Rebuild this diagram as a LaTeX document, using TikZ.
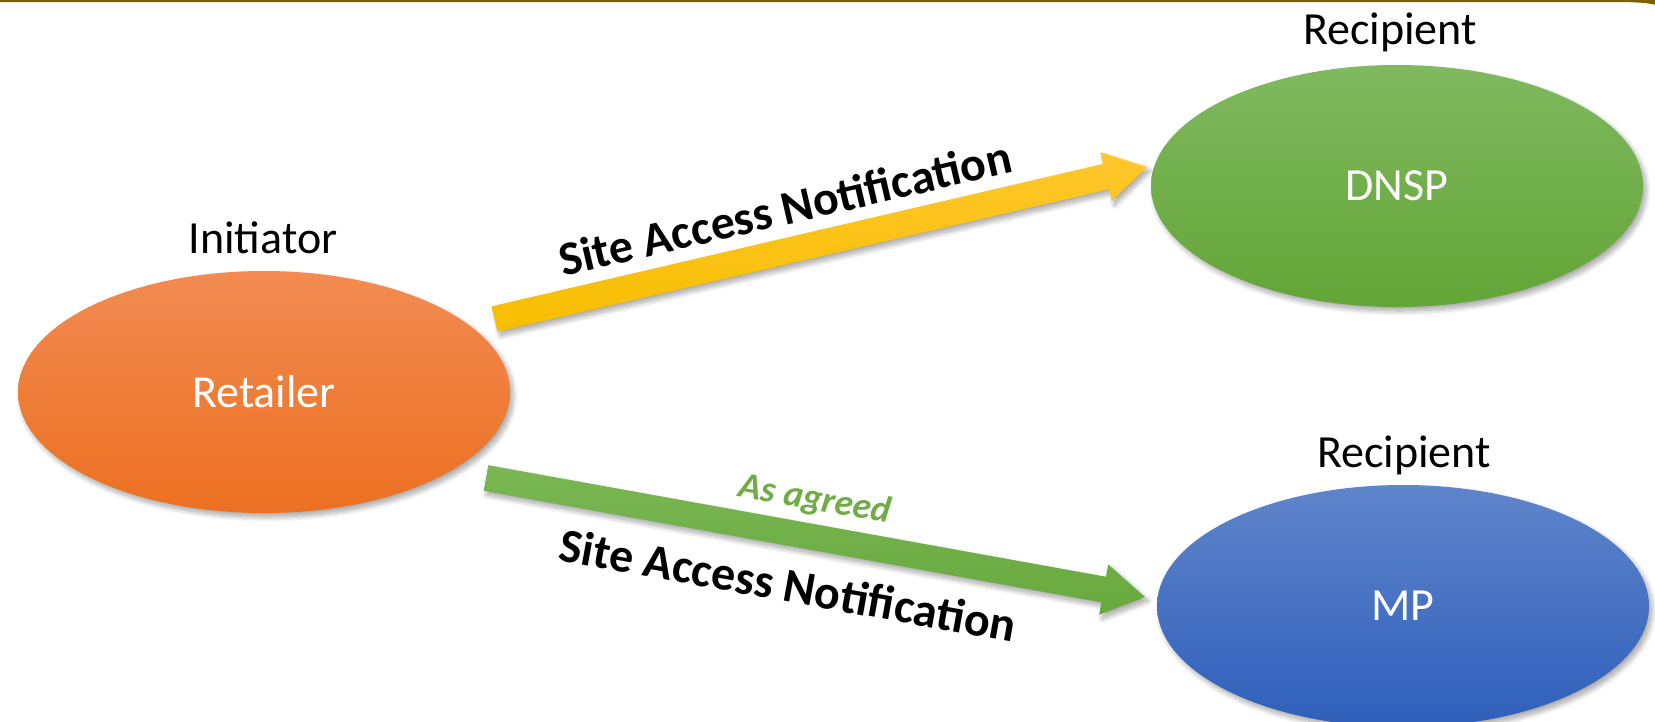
\documentclass[tikz,border=0pt]{standalone}
\usepackage{fontspec}
\setmainfont{Carlito}
\usetikzlibrary{shapes.geometric,calc,shadows.blur}

\definecolor{frame}{RGB}{127,96,0}
\definecolor{ortop}{RGB}{242,139,82}
\definecolor{orbot}{RGB}{236,112,33}
\definecolor{grtop}{RGB}{128,185,95}
\definecolor{grbot}{RGB}{99,165,55}
\definecolor{bltop}{RGB}{95,133,203}
\definecolor{blbot}{RGB}{47,95,186}
\definecolor{yetop}{RGB}{255,199,44}
\definecolor{yebot}{RGB}{247,190,0}
\definecolor{gatop}{RGB}{122,183,84}
\definecolor{gabot}{RGB}{104,169,62}
\definecolor{agreed}{RGB}{112,173,71}

\begin{document}
\begin{tikzpicture}[x=1pt,y=-1pt,
  softshadow/.style={blur shadow={shadow xshift=3pt,shadow yshift=-4pt,
      shadow blur radius=5pt,shadow blur steps=10,shadow opacity=35}},
  party/.style={ellipse,minimum width=492pt,minimum height=242pt,inner sep=0pt,
      text=white,font=\fontsize{46}{55}\selectfont,softshadow},
  role/.style={font=\fontsize{46}{55}\selectfont,anchor=base},
  msg/.style={font=\bfseries\fontsize{48}{58}\selectfont},
  note/.style={font=\bfseries\itshape\fontsize{37}{44}\selectfont,text=agreed},
  blockarrow/.style={softshadow}]

\useasboundingbox (0,0) rectangle (1655,721);

% frame edge along the top, flaring slightly at the right corner
\fill[frame] (-5,0) -- (1660,0) -- (1660,6) .. controls (1648,3) .. (1630,2.2)
  -- (-5,2.2) -- cycle;

% parties
\node[party,top color=ortop,bottom color=orbot] (ret)  at (264,392) {Retailer};
\node[party,top color=grtop,bottom color=grbot] (dnsp) at (1397,186) {DNSP};
\node[party,top color=bltop,bottom color=blbot] (mp)   at (1403,606) {MP};

% roles
\node[role] (init) at (263,253) {Initiator};
\node[role] (rec1) at (1390,44) {Recipient};
\node[role] (rec2) at (1404,467) {Recipient};

% arrow ends
\coordinate (yt) at (494.5,319);
\coordinate (yh) at (1147,167);
\coordinate (gt) at (486,478);
\coordinate (gh) at (1145,597);
\coordinate (yb) at ($(yh)!42pt!(yt)$);
\coordinate (gb) at ($(gh)!42pt!(gt)$);

% Retailer -> DNSP
\path[blockarrow,top color=yetop,bottom color=yebot]
  ($(yt)!13pt!90:(yh)$) -- ($(yb)!13pt!90:(yh)$) -- ($(yb)!25pt!90:(yh)$)
  -- (yh) -- ($(yb)!25pt!-90:(yh)$) -- ($(yb)!13pt!-90:(yh)$)
  -- ($(yt)!13pt!-90:(yh)$) -- cycle;

% Retailer -> MP
\path[blockarrow,top color=gatop,bottom color=gabot]
  ($(gt)!13pt!90:(gh)$) -- ($(gb)!13pt!90:(gh)$) -- ($(gb)!25.5pt!90:(gh)$)
  -- (gh) -- ($(gb)!25.5pt!-90:(gh)$) -- ($(gb)!13pt!-90:(gh)$)
  -- ($(gt)!13pt!-90:(gh)$) -- cycle;

% message labels
\node[msg,rotate=13.1] (m1) at (785,208) {Site Access Notification};
\node[msg,rotate=-10.2] (m2) at (788,585) {Site Access Notification};
\node[note,rotate=-10.2] (ag) at (815,500) {As agreed};

\end{tikzpicture}
\end{document}
